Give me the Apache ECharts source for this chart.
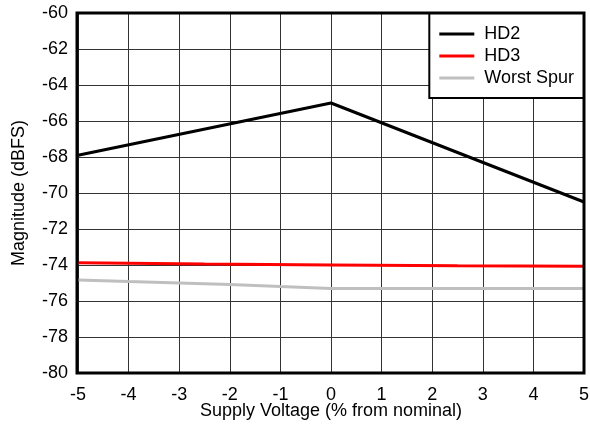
<!DOCTYPE html>
<html><head><meta charset="utf-8">
<script src="https://cdn.jsdelivr.net/npm/echarts@6/dist/echarts.min.js"></script>
<style>html,body{margin:0;padding:0;background:#fff}#c{width:590px;height:427px}</style>
</head><body><div id="c"></div>
<script>
var xTicks = [-5,-4,-3,-2,-1,0,1,2,3,4,5];
var yTicks = [-80,-78,-76,-74,-72,-70,-68,-66,-64,-62,-60];
var hd2 = [[-5,-67.9],[0,-65.0],[5,-70.5]];
var hd3 = [[-5,-73.87],[-2.5,-73.95],[0,-74.0],[2.5,-74.04],[5,-74.07]];
var spur = [[-5,-74.83],[-4,-74.92],[-3,-75.0],[-2,-75.08],[-1,-75.2],[0,-75.3],[2.5,-75.3],[5,-75.3]];
var chart = echarts.init(document.getElementById('c'));
var font = 'Liberation Sans, Arial, sans-serif';
chart.setOption({
  animation:false,
  grid:{left:78,right:6,top:13,bottom:54,containLabel:false,outerBoundsMode:'none'},
  xAxis:{type:'value',min:-5,max:5,interval:1,
    axisLine:{show:false},axisTick:{show:false},
    axisLabel:{color:'#000',fontSize:18,fontFamily:font,margin:13},
    splitLine:{show:true,lineStyle:{color:'#333',width:1}},
    name:'Supply Voltage (% from nominal)',nameLocation:'middle',nameGap:29,nameMoveOverlap:false,
    nameTextStyle:{color:'#000',fontSize:18,fontFamily:font}},
  yAxis:{type:'value',min:-80,max:-60,interval:2,
    axisLine:{show:false},axisTick:{show:false},
    axisLabel:{color:'#000',fontSize:18,fontFamily:font,margin:10},
    splitLine:{show:true,lineStyle:{color:'#333',width:1}},
    name:'Magnitude (dBFS)',nameLocation:'middle',nameGap:50,nameMoveOverlap:false,
    nameTextStyle:{color:'#000',fontSize:18,fontFamily:font}},
  legend:{orient:'vertical',right:6,top:13,backgroundColor:'#fff',borderColor:'#000',borderWidth:2,
    padding:[12,10,11,10],itemWidth:35,itemHeight:18,itemGap:4,
    icon:'path://M0,7.5 L35,7.5 L35,10.5 L0,10.5 Z',
    textStyle:{color:'#000',fontSize:18,fontFamily:font,padding:[0,0,0,5]},
    data:['HD2','HD3','Worst Spur']},
  graphic:[{type:'rect',shape:{x:77,y:13,width:507,height:360},style:{fill:'none',stroke:'#000',lineWidth:3},z:100}],
  series:[
    {name:'HD2',type:'line',data:hd2,symbol:'none',lineStyle:{color:'#000',width:3},itemStyle:{color:'#000'}},
    {name:'HD3',type:'line',data:hd3,symbol:'none',lineStyle:{color:'#ff0000',width:3},itemStyle:{color:'#ff0000'}},
    {name:'Worst Spur',type:'line',data:spur,symbol:'none',lineStyle:{color:'#bfbfbf',width:3},itemStyle:{color:'#bfbfbf'}}
  ]
});
</script></body></html>
